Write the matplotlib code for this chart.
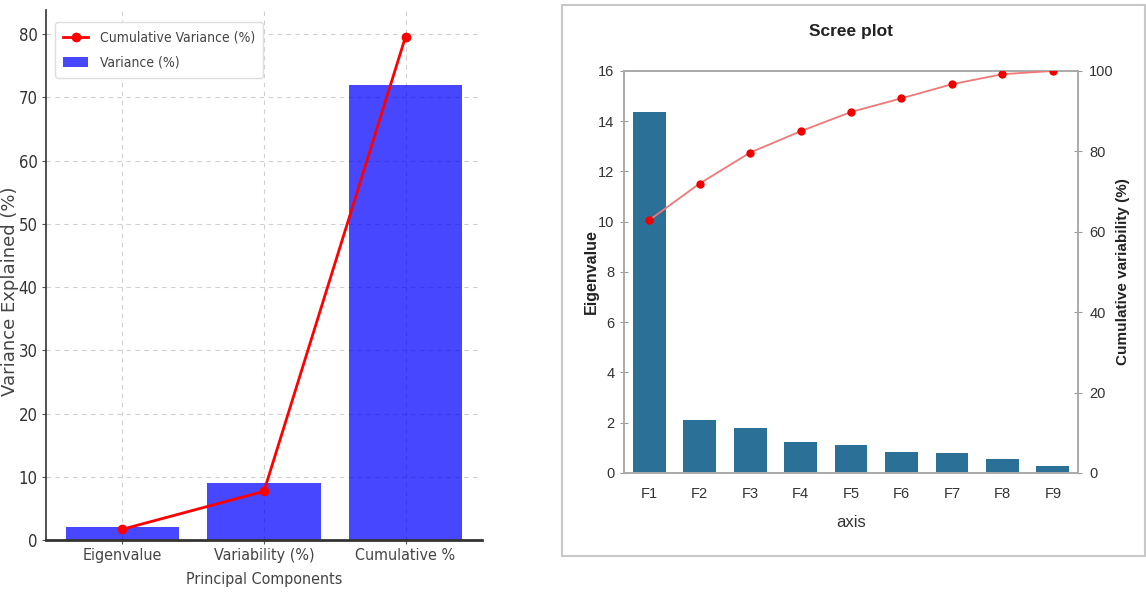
import matplotlib
matplotlib.use("Agg")
import matplotlib.pyplot as plt
from matplotlib.patches import Rectangle
import numpy as np

# ---- left panel data ----
pc_labels = ["Eigenvalue", "Variability (%)", "Cumulative %"]
variance_pct = [2.0, 9.0, 71.9]
cumulative_pct = [1.7, 7.7, 79.6]

# ---- scree plot data ----
axes_labels = ["F1", "F2", "F3", "F4", "F5", "F6", "F7", "F8", "F9"]
eigenvalues = [14.35, 2.10, 1.79, 1.24, 1.12, 0.83, 0.78, 0.55, 0.28]
cum_variability = [62.9, 72.0, 79.7, 85.0, 89.8, 93.2, 96.7, 99.2, 100.0]

NARROW = dict(family="DejaVu Sans", stretch="condensed")
ARIAL = ["Liberation Sans", "DejaVu Sans"]

fig = plt.figure(figsize=(11.46, 6.0), dpi=100)

# ================= left: variance explained =================
ax1 = fig.add_axes([0.0401, 0.10, 0.3805, 0.8833])
x1 = np.arange(len(pc_labels))
ax1.bar(x1, variance_pct, width=0.8, color="blue", alpha=0.72,
        label="Variance (%)", zorder=2)
ax1.plot(x1, cumulative_pct, color="red", lw=2, marker="o", ms=6,
         label="Cumulative Variance (%)", zorder=3)
ax1.set_xlim(-0.54, 2.54)
ax1.set_ylim(0, 83.8)
ax1.set_xticks(x1)
ax1.set_xticklabels(pc_labels, fontsize=11.5, color="#444444", **NARROW)
ax1.set_yticks(np.arange(0, 81, 10))
ax1.set_yticklabels([str(v) for v in range(0, 81, 10)], fontsize=12,
                    color="#333333", **NARROW)
ax1.grid(True, ls=(0, (4, 4)), color="#d0d0d0", lw=0.8, zorder=0)
ax1.set_axisbelow(True)
for s in ("top", "right"):
    ax1.spines[s].set_visible(False)
ax1.spines["left"].set_color("#333333")
ax1.spines["left"].set_linewidth(1.2)
ax1.spines["bottom"].set_color("#333333")
ax1.spines["bottom"].set_linewidth(2.0)
ax1.tick_params(axis="both", length=3, color="#555555", pad=3)
ax1.set_xlabel("Principal Components", fontsize=11.5, color="#444444",
               labelpad=6, **NARROW)
ax1.set_ylabel("Variance Explained (%)", fontsize=13, color="#444444")
ax1.yaxis.set_label_coords(-0.062, 0.47)
leg = ax1.legend(loc="upper left", prop=dict(size=10, **NARROW),
                 frameon=True, fancybox=True, framealpha=1,
                 edgecolor="#dddddd", borderpad=0.6, handlelength=1.8,
                 labelspacing=0.8, bbox_to_anchor=(0.005, 0.99))
for t in leg.get_texts():
    t.set_color("#444444")

# ================= right: scree plot =================
fig.patches.append(Rectangle((0.4904, 0.0733), 0.5087, 0.918,
                             transform=fig.transFigure, fill=False,
                             edgecolor="#c8c8c8", lw=1.5, zorder=0))

ax2 = fig.add_axes([0.5445, 0.2117, 0.3962, 0.67])
x2 = np.arange(len(axes_labels))
ax2.bar(x2, eigenvalues, width=0.65, color="#2b7096", zorder=2)
ax2.set_xlim(-0.5, 8.5)
ax2.set_ylim(0, 16)
ax2.set_yticks(np.arange(0, 17, 2))
ax2.set_xticks(x2)
ax2.set_xticklabels(axes_labels, family=ARIAL, fontsize=10.5, color="#333333")
for lbl in ax2.get_yticklabels():
    lbl.set_family(ARIAL)
    lbl.set_fontsize(10.5)
    lbl.set_color("#333333")
ax2.tick_params(axis="y", direction="inout", length=6, color="#999999", pad=4)
ax2.tick_params(axis="x", length=0, pad=10)
for s in ax2.spines.values():
    s.set_color("#aaaaaa")
    s.set_linewidth(1.2)
ax2.set_xlabel("axis", family=ARIAL, fontsize=12, color="#333333",
               labelpad=10)
ax2.set_ylabel("Eigenvalue", family=ARIAL, fontsize=11.5, fontweight="bold",
               color="#222222")
ax2.yaxis.set_label_coords(-0.055, 0.5)
ax2.set_title("Scree plot", family=ARIAL, fontsize=12.5, fontweight="bold",
              color="#222222", pad=25)

ax3 = ax2.twinx()
ax3.plot(x2, cum_variability, color="#f07878", lw=1.3, zorder=3)
ax3.plot(x2, cum_variability, ls="none", marker="o", ms=5, color="#ee0000",
         zorder=4)
ax3.set_ylim(0, 100)
ax3.set_yticks(np.arange(0, 101, 20))
for lbl in ax3.get_yticklabels():
    lbl.set_family(ARIAL)
    lbl.set_fontsize(10.5)
    lbl.set_color("#333333")
ax3.tick_params(axis="y", direction="inout", length=6, color="#999999", pad=5)
for s in ax3.spines.values():
    s.set_color("#aaaaaa")
    s.set_linewidth(1.2)
ax3.set_ylabel("Cumulative variability (%)", family=ARIAL, fontsize=11,
               fontweight="bold", color="#222222")
ax3.yaxis.set_label_coords(1.084, 0.5)

fig.savefig("out.png", dpi=100)
